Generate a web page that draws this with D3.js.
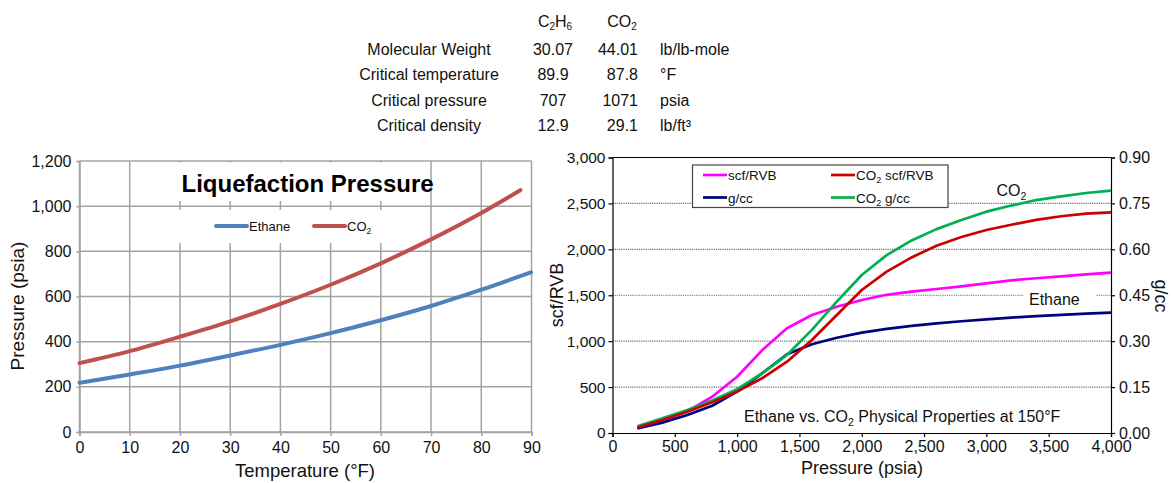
<!DOCTYPE html>
<html><head><meta charset="utf-8">
<script src="https://cdn.jsdelivr.net/npm/d3@7"></script>
<style>
body{margin:0;background:#fff}
svg{display:block;font-family:"Liberation Sans",Arial,Helvetica,sans-serif}
</style></head><body>
<svg id="c" width="1171" height="483"></svg>
<script>
// ---- property table ----
const propNames = ["Molecular Weight", "Critical temperature", "Critical pressure", "Critical density"];
const ethaneProps = ["30.07", "89.9", "707", "12.9"];
const co2Props = ["44.01", "87.8", "1071", "29.1"];
const propUnits = ["lb/lb-mole", "°F", "psia", "lb/ft³"];

// ---- liquefaction (vapour pressure) curves ----
const tempTicks = [0, 10, 20, 30, 40, 50, 60, 70, 80, 90];
const liqPressTicks = [0, 200, 400, 600, 800, 1000, 1200];
const ethaneTemp = [0, 10, 20, 30, 40, 50, 60, 70, 80, 89.9];
const ethanePsia = [218, 255, 294, 339, 386, 438, 495, 558, 630, 707];
const co2Temp = [0, 10, 20, 30, 40, 50, 60, 70, 80, 87.8];
const co2Psia = [305, 358, 422, 490, 567, 652, 747, 853, 970, 1071];

// ---- physical properties at 150°F ----
const pressTicks = [0, 500, 1000, 1500, 2000, 2500, 3000, 3500, 4000];
const scfTicks = [0, 500, 1000, 1500, 2000, 2500, 3000];
const gccTicks = [0, 0.15, 0.30, 0.45, 0.60, 0.75, 0.90];
const propPsia = [200, 400, 600, 800, 1000, 1200, 1400, 1600, 1800, 2000, 2200, 2400, 2600, 2800, 3000, 3200, 3400, 3600, 3800, 4000];
const ethaneScf = [55, 141, 235, 395, 613, 900, 1140, 1285, 1375, 1448, 1505, 1540, 1568, 1597, 1630, 1662, 1685, 1706, 1727, 1746];
const ethaneGcc = [0.015, 0.034, 0.059, 0.089, 0.135, 0.195, 0.257, 0.290, 0.311, 0.328, 0.340, 0.350, 0.358, 0.365, 0.371, 0.377, 0.382, 0.386, 0.390, 0.393];
const co2Scf = [60, 141, 232, 334, 450, 596, 777, 1013, 1285, 1557, 1757, 1912, 2040, 2135, 2210, 2268, 2320, 2360, 2388, 2403];
const co2Gcc = [0.022, 0.048, 0.075, 0.106, 0.143, 0.195, 0.255, 0.337, 0.429, 0.516, 0.581, 0.629, 0.666, 0.696, 0.723, 0.743, 0.761, 0.773, 0.784, 0.792];

const svg = d3.select("#c");
const txt = "#111";

// ================= table =================
const tbl = svg.append("g").attr("font-size", 16).attr("fill", txt);
const hdrC2H6 = tbl.append("text").attr("x", 555).attr("y", 27).attr("text-anchor", "middle");
hdrC2H6.append("tspan").text("C");
hdrC2H6.append("tspan").attr("font-size", 10).attr("dy", 3).text("2");
hdrC2H6.append("tspan").attr("dy", -3).text("H");
hdrC2H6.append("tspan").attr("font-size", 10).attr("dy", 3).text("6");
const hdrCO2 = tbl.append("text").attr("x", 622).attr("y", 27).attr("text-anchor", "middle");
hdrCO2.append("tspan").text("CO");
hdrCO2.append("tspan").attr("font-size", 10).attr("dy", 3).text("2");

const rowY = d => 55 + d * 25.3;
tbl.selectAll("text.name").data(propNames).join("text").attr("class", "name")
  .attr("x", 429).attr("y", (d, i) => rowY(i)).attr("text-anchor", "middle").text(d => d);
tbl.selectAll("text.eth").data(ethaneProps).join("text").attr("class", "eth")
  .attr("x", 553).attr("y", (d, i) => rowY(i)).attr("text-anchor", "middle").text(d => d);
tbl.selectAll("text.co2").data(co2Props).join("text").attr("class", "co2")
  .attr("x", 638).attr("y", (d, i) => rowY(i)).attr("text-anchor", "end").text(d => d);
tbl.selectAll("text.unit").data(propUnits).join("text").attr("class", "unit")
  .attr("x", 660).attr("y", (d, i) => rowY(i)).attr("text-anchor", "start").text(d => d);

// ================= left chart: liquefaction pressure =================
const L = { x0: 79.5, x1: 531.5, y0: 432, y1: 161 };
const xT = d3.scaleLinear().domain([0, 90]).range([L.x0, L.x1]);
const yP = d3.scaleLinear().domain([0, 1200]).range([L.y0, L.y1]);
const gridC = "#a3a3a3";
const gl = svg.append("g");

gl.append("g").selectAll("line").data(tempTicks).join("line")
  .attr("x1", d => xT(d)).attr("x2", d => xT(d)).attr("y1", L.y0).attr("y2", L.y1)
  .attr("stroke", gridC).attr("stroke-width", 1.5);
gl.append("g").selectAll("line").data(liqPressTicks).join("line")
  .attr("x1", L.x0).attr("x2", L.x1).attr("y1", d => yP(d)).attr("y2", d => yP(d))
  .attr("stroke", gridC).attr("stroke-width", 1.5);

const axL = gl.append("g").attr("transform", `translate(${L.x0},0)`)
  .call(d3.axisLeft(yP).tickValues(liqPressTicks).tickFormat(d3.format(",")).tickSize(3).tickPadding(5));
const axB = gl.append("g").attr("transform", `translate(0,${L.y0})`)
  .call(d3.axisBottom(xT).tickValues(tempTicks).tickFormat(d3.format("d")).tickSize(4).tickPadding(6));
[axL, axB].forEach(a => {
  a.attr("font-family", null);
  a.select(".domain").attr("stroke", gridC).attr("stroke-width", 1.5);
  a.selectAll(".tick line").attr("stroke", gridC).attr("stroke-width", 1.5);
  a.selectAll("text").attr("font-size", 16).attr("fill", txt);
});

// title and legend panels
gl.append("rect").attr("x", 176).attr("y", 162.5).attr("width", 254).attr("height", 38.5).attr("fill", "#fff");
gl.append("rect").attr("x", 176).attr("y", 210).attr("width", 252).attr("height", 33).attr("fill", "#fff");
gl.append("text").attr("x", 181.5).attr("y", 192).attr("font-size", 24).attr("font-weight", "bold")
  .attr("fill", "#000").text("Liquefaction Pressure");

const liqSeries = [
  { name: "Ethane", t: ethaneTemp, p: ethanePsia, color: "#4f81bd", lx: 216 },
  { name: "CO", sub: "2", t: co2Temp, p: co2Psia, color: "#c0504d", lx: 314 }
];
const liqLine = d3.line().curve(d3.curveMonotoneX).x(d => xT(d[0])).y(d => yP(d[1]));
liqSeries.forEach(s => {
  gl.append("path").datum(s.t.map((t, i) => [t, s.p[i]])).attr("d", liqLine)
    .attr("fill", "none").attr("stroke", s.color).attr("stroke-width", 4).attr("stroke-linecap", "round");
  gl.append("line").attr("x1", s.lx).attr("x2", s.lx + 31).attr("y1", 226).attr("y2", 226)
    .attr("stroke", s.color).attr("stroke-width", 4).attr("stroke-linecap", "round");
  const t = gl.append("text").attr("x", s.lx + 33).attr("y", 231).attr("font-size", 13).attr("fill", txt);
  t.append("tspan").text(s.name);
  if (s.sub) t.append("tspan").attr("font-size", 8.5).attr("dy", 3).text(s.sub);
});

gl.append("text").attr("transform", `translate(24,306) rotate(-90)`).attr("text-anchor", "middle")
  .attr("font-size", 19).attr("fill", txt).text("Pressure (psia)");
gl.append("text").attr("x", 305).attr("y", 477).attr("text-anchor", "middle")
  .attr("font-size", 18.5).attr("fill", txt).text("Temperature (°F)");

// ================= right chart: physical properties =================
const R = { x0: 612.5, x1: 1111, y0: 433, y1: 157.5 };
const xP = d3.scaleLinear().domain([0, 4000]).range([R.x0, R.x1]);
const yS = d3.scaleLinear().domain([0, 3000]).range([R.y0, R.y1]);
const yG = d3.scaleLinear().domain([0, 0.9]).range([R.y0, R.y1]);
const gr = svg.append("g");

gr.append("g").selectAll("line").data(scfTicks.slice(1, -1)).join("line")
  .attr("x1", R.x0).attr("x2", R.x1).attr("y1", d => yS(d)).attr("y2", d => yS(d))
  .attr("stroke", "#6e6e6e").attr("stroke-width", 1.2).attr("stroke-dasharray", "1.2,1");

// white panel behind the "Ethane" tag
gr.append("rect").attr("x", 1024).attr("y", 288).attr("width", 72).attr("height", 20).attr("fill", "#fff");

const fmtG = d3.format(".2f");
const axRL = gr.append("g").attr("transform", `translate(${R.x0},0)`)
  .call(d3.axisLeft(yS).tickValues(scfTicks).tickFormat(d3.format(",")).tickSize(4).tickPadding(3));
const axRR = gr.append("g").attr("transform", `translate(${R.x1},0)`)
  .call(d3.axisRight(yG).tickValues(gccTicks).tickFormat(fmtG).tickSize(4).tickPadding(4));
const axRB = gr.append("g").attr("transform", `translate(0,${R.y0})`)
  .call(d3.axisBottom(xP).tickValues(pressTicks).tickFormat(d3.format(",")).tickSize(4).tickPadding(4));
[axRL, axRR, axRB].forEach(a => {
  a.attr("font-family", null);
  a.select(".domain").attr("stroke", "#000").attr("stroke-width", 1.2);
  a.selectAll(".tick line").attr("stroke", "#000").attr("stroke-width", 1.2);
  a.selectAll("text").attr("font-size", 16).attr("fill", txt);
});
axRL.selectAll("text").attr("font-size", 15.5);
gr.append("line").attr("x1", R.x0).attr("x2", R.x1).attr("y1", R.y1).attr("y2", R.y1)
  .attr("stroke", "#000").attr("stroke-width", 1.2);

const propSeries = [
  { vals: ethaneScf, y: yS, color: "#ff00ff" },
  { vals: ethaneGcc, y: yG, color: "#000080" },
  { vals: co2Gcc, y: yG, color: "#00b050" },
  { vals: co2Scf, y: yS, color: "#cc0000" }
];
propSeries.forEach(s => {
  const ln = d3.line().x((d, i) => xP(propPsia[i])).y(d => s.y(d));
  gr.append("path").datum(s.vals).attr("d", ln).attr("fill", "none")
    .attr("stroke", s.color).attr("stroke-width", 2.7).attr("stroke-linejoin", "round");
});

// legend
gr.append("rect").attr("x", 692.5).attr("y", 165).attr("width", 255.5).attr("height", 42.5)
  .attr("fill", "#fff").attr("stroke", "#444").attr("stroke-width", 1.2);
const legItems = [
  { label: "scf/RVB", color: "#ff00ff", x: 703, y: 175 },
  { label: "g/cc", color: "#000080", x: 703, y: 197.5 },
  { label: " scf/RVB", co2: true, color: "#cc0000", x: 831, y: 175 },
  { label: " g/cc", co2: true, color: "#00b050", x: 831, y: 197.5 }
];
legItems.forEach(d => {
  gr.append("line").attr("x1", d.x).attr("x2", d.x + 24).attr("y1", d.y).attr("y2", d.y)
    .attr("stroke", d.color).attr("stroke-width", 2.7);
  const t = gr.append("text").attr("x", d.x + 25).attr("y", d.y + 5).attr("font-size", 13.5)
    .attr("fill", txt).attr("xml:space", "preserve");
  if (d.co2) {
    t.append("tspan").text("CO");
    t.append("tspan").attr("font-size", 9).attr("dy", 3).text("2");
    t.append("tspan").attr("dy", -3).text(d.label);
  } else t.text(d.label);
});

// series tags
const co2Tag = gr.append("text").attr("x", 996.5).attr("y", 196).attr("font-size", 16).attr("fill", txt);
co2Tag.append("tspan").text("CO");
co2Tag.append("tspan").attr("font-size", 10.5).attr("dy", 4).text("2");
gr.append("text").attr("x", 1029).attr("y", 305).attr("font-size", 16).attr("fill", txt).text("Ethane");

const sub = gr.append("text").attr("x", 744).attr("y", 421.5).attr("font-size", 16).attr("fill", txt);
sub.append("tspan").text("Ethane vs. CO");
sub.append("tspan").attr("font-size", 10.5).attr("dy", 4).text("2");
sub.append("tspan").attr("dy", -4).text(" Physical Properties at 150°F");

gr.append("text").attr("transform", `translate(563,295) rotate(-90)`).attr("text-anchor", "middle")
  .attr("font-size", 18).attr("fill", txt).text("scf/RVB");
gr.append("text").attr("transform", `translate(1155,296) rotate(90)`).attr("text-anchor", "middle")
  .attr("font-size", 18).attr("fill", txt).text("g/cc");
gr.append("text").attr("x", 862).attr("y", 474).attr("text-anchor", "middle")
  .attr("font-size", 18).attr("fill", txt).text("Pressure (psia)");
</script>
</body></html>
